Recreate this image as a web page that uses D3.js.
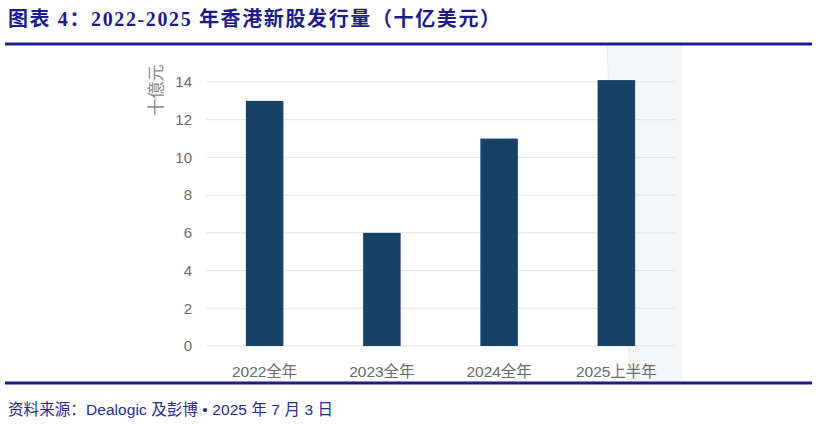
<!DOCTYPE html>
<html>
<head>
<meta charset="utf-8">
<script src="https://cdn.jsdelivr.net/npm/d3@7"></script>
<style>
  body{margin:0;background:#fff;}
  svg{display:block;}
</style>
</head>
<body>
<svg id="chart" width="818" height="424"></svg>
<script>
var categories = ["2022全年","2023全年","2024全年","2025上半年"];
var values = [13, 6, 11, 14.1];
var yTicks = [0,2,4,6,8,10,12,14];

var svg = d3.select("#chart");
var navy = "#1c1c8a";

// header
svg.append("text")
  .attr("x",8).attr("y",26)
  .attr("font-family","'Liberation Serif','Noto Sans CJK SC',serif")
  .attr("font-weight","bold").attr("font-size",20)
  .attr("fill",navy)
  .attr("textLength",492).attr("lengthAdjust","spacing")
  .text("图表 4：2022-2025 年香港新股发行量（十亿美元）");
svg.append("line").attr("x1",5).attr("x2",812).attr("y1",44).attr("y2",44)
  .attr("stroke",navy).attr("stroke-width",3);

// faint grey band behind the last bar (screenshot artifact)
svg.append("path")
  .attr("d","M607,46 Q612,220 632,382 L682,382 L682,46 Z")
  .attr("fill","#f5f6f8");
svg.append("path")
  .attr("d","M607,46 Q612,220 632,382")
  .attr("fill","none").attr("stroke","#e8eaee").attr("stroke-width",1);

var x = d3.scaleBand().domain(categories).range([206,675]).paddingInner(0.68).paddingOuter(0.34);
var y = d3.scaleLinear().domain([0,14]).range([346,82]);

// grid
svg.append("g").selectAll("line").data(yTicks).enter().append("line")
  .attr("x1",206).attr("x2",675)
  .attr("y1",function(d){return y(d)}).attr("y2",function(d){return y(d)})
  .attr("stroke","#e3e3e3").attr("stroke-width",1);

var yAxis = svg.append("g").attr("transform","translate(206,0)")
  .call(d3.axisLeft(y).tickValues(yTicks).tickSize(0).tickPadding(14));
yAxis.select(".domain").remove();
yAxis.selectAll("text").attr("font-family","'Liberation Sans',Arial,sans-serif")
  .attr("font-size",15).attr("fill","#6a6a6a");

svg.append("text")
  .attr("transform","translate(162,90) rotate(-90)")
  .attr("text-anchor","middle")
  .attr("font-family","'Noto Sans CJK SC',sans-serif")
  .attr("font-size",17).attr("fill","#8a8a8a")
  .text("十億元");

// bars
svg.append("g").selectAll("rect").data(values).enter().append("rect")
  .attr("x",function(d,i){return x(categories[i])})
  .attr("width",x.bandwidth())
  .attr("y",function(d){return y(d)})
  .attr("height",function(d){return y(0)-y(d)})
  .attr("fill","#164268");

var xAxis = svg.append("g").attr("transform","translate(0,346)")
  .call(d3.axisBottom(x).tickSize(0).tickPadding(20));
xAxis.select(".domain").remove();
xAxis.selectAll("text").attr("font-family","'Liberation Sans','Noto Sans CJK SC',sans-serif")
  .attr("font-size",15.5).attr("fill","#6a6a6a");

// footer
svg.append("line").attr("x1",5).attr("x2",812).attr("y1",383).attr("y2",383)
  .attr("stroke",navy).attr("stroke-width",3);
svg.append("text")
  .attr("x",8).attr("y",415)
  .attr("font-family","'Liberation Sans','Noto Sans CJK SC',sans-serif")
  .attr("font-size",15.5).attr("fill","#2a2a8a")
  .attr("textLength",325).attr("lengthAdjust","spacing")
  .text("资料来源：Dealogic 及彭博 • 2025 年 7 月 3 日");
</script>
</body>
</html>
